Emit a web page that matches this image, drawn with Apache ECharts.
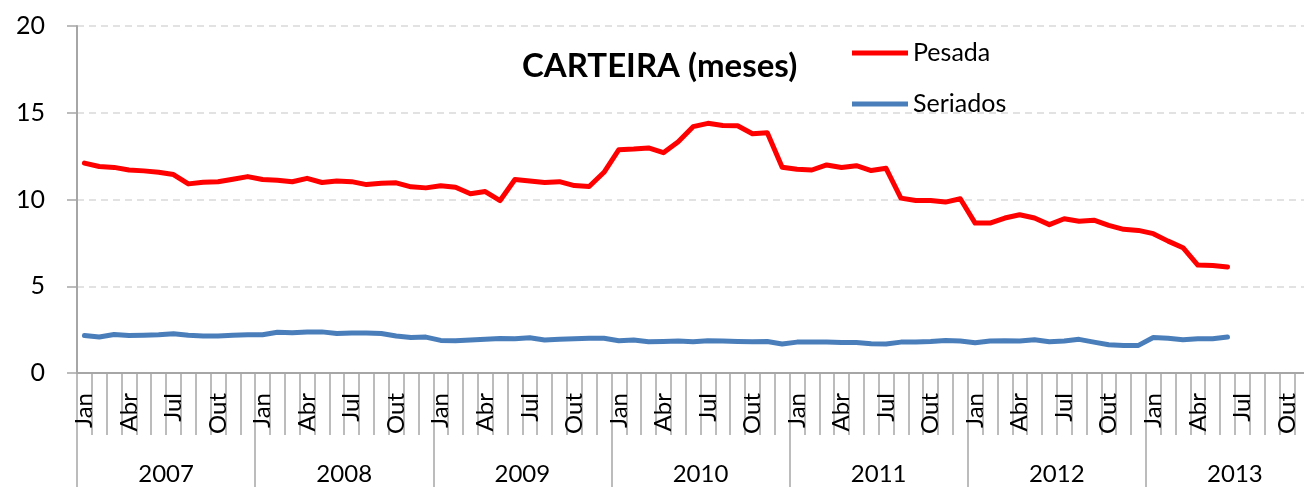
<!DOCTYPE html>
<html>
<head>
<meta charset="utf-8">
<script src="https://cdn.jsdelivr.net/npm/echarts@6/dist/echarts.min.js"></script>
<style>
html,body{margin:0;padding:0;background:#fff;}
#chart{width:1304px;height:487px;}
</style>
</head>
<body>
<div id="chart"></div>
<script>
const years = ["2007","2008","2009","2010","2011","2012","2013"];
const monthNames = ["Jan","Fev","Mar","Abr","Mai","Jun","Jul","Ago","Set","Out","Nov","Dez"];
const yTicks = [0, 5, 10, 15, 20];

const pesada = [
  12.1, 11.9, 11.85, 11.7, 11.65, 11.57, 11.44, 10.9, 11.0, 11.02, 11.17, 11.32,
  11.15, 11.11, 11.02, 11.22, 10.98, 11.07, 11.03, 10.86, 10.94, 10.96, 10.73, 10.67,
  10.79, 10.71, 10.33, 10.46, 9.94, 11.15, 11.07, 10.98, 11.03, 10.8, 10.75, 11.57,
  12.87, 12.91, 12.97, 12.7, 13.33, 14.2, 14.39, 14.27, 14.25, 13.79, 13.85, 11.86,
  11.74, 11.7, 11.99, 11.84, 11.95, 11.67, 11.8, 10.08, 9.94, 9.94, 9.85, 10.04,
  8.64, 8.64, 8.93, 9.12, 8.93, 8.55, 8.89, 8.75, 8.81, 8.51, 8.28, 8.22,
  8.03, 7.6, 7.22, 6.22, 6.2, 6.11
];
const seriados = [
  2.16, 2.07, 2.22, 2.16, 2.18, 2.2, 2.26, 2.18, 2.13, 2.13, 2.18, 2.2,
  2.2, 2.35, 2.32, 2.37, 2.37, 2.28, 2.3, 2.3, 2.28, 2.13, 2.05, 2.07,
  1.88, 1.86, 1.9, 1.94, 1.99, 1.97, 2.03, 1.9, 1.94, 1.97, 2.0, 2.0,
  1.86, 1.9, 1.8, 1.82, 1.84, 1.8, 1.86, 1.84, 1.82, 1.8, 1.82, 1.67,
  1.78, 1.78, 1.78, 1.76, 1.76, 1.69, 1.67, 1.78, 1.78, 1.82, 1.88, 1.84,
  1.74, 1.84, 1.86, 1.84, 1.92, 1.8, 1.84, 1.94, 1.78, 1.63, 1.59, 1.59,
  2.05, 2.0, 1.92, 1.97, 1.97, 2.07
];

const months = [];
years.forEach(y => monthNames.forEach(m => months.push(m + " " + y)));

const FONT = "Lato";
const chart = echarts.init(document.getElementById('chart'), null, {renderer: 'canvas'});
chart.setOption({
  backgroundColor: '#ffffff',
  animation: false,
  title: {
    text: 'CARTEIRA (meses)',
    left: 522,
    top: 50,
    padding: 0,
    textStyle: {fontFamily: FONT, fontSize: 33, fontWeight: 'bold', color: '#000'}
  },
  legend: {
    orient: 'vertical',
    left: 852,
    top: 38,
    padding: 0,
    itemWidth: 56,
    itemHeight: 5,
    itemGap: 21,
    icon: 'rect',
    textStyle: {fontFamily: FONT, fontSize: 25, color: '#000', lineHeight: 30},
    data: ['Pesada', 'Seriados']
  },
  grid: {left: 77, width: 1247, top: 26, bottom: 114, containLabel: false, outerBoundsMode: 'none'},
  xAxis: [
    {
      type: 'category',
      data: months,
      boundaryGap: true,
      position: 'bottom',
      axisLine: {show: true, lineStyle: {color: '#a6a6a6', width: 2}},
      axisTick: {show: true, interval: 0, length: 62, lineStyle: {color: '#a6a6a6', width: 1.5}},
      axisLabel: {
        interval: 2,
        rotate: 90,
        margin: 20,
        fontFamily: FONT,
        fontSize: 24,
        color: '#000',
        formatter: v => v.split(' ')[0]
      },
      splitLine: {show: false}
    },
    {
      type: 'category',
      data: years,
      boundaryGap: true,
      position: 'bottom',
      axisLine: {show: false},
      axisTick: {show: true, interval: 0, length: 120, lineStyle: {color: '#a6a6a6', width: 1.5}},
      axisLabel: {interval: 0, margin: 89, fontFamily: FONT, fontSize: 24, color: '#000'},
      splitLine: {show: false}
    }
  ],
  yAxis: {
    type: 'value',
    min: yTicks[0],
    max: yTicks[yTicks.length - 1],
    interval: yTicks[1] - yTicks[0],
    axisLine: {show: true, lineStyle: {color: '#a6a6a6', width: 2}},
    axisTick: {show: true, length: 10, lineStyle: {color: '#a6a6a6', width: 1.5}},
    axisLabel: {margin: 32, fontFamily: FONT, fontSize: 25, color: '#000'},
    splitLine: {show: true, lineStyle: {color: '#d9d9d9', width: 1.5, type: [7, 5]}}
  },
  series: [
    {
      name: 'Pesada',
      type: 'line',
      data: pesada,
      xAxisIndex: 0,
      symbol: 'none',
      color: '#ff0000',
      lineStyle: {width: 5, color: '#ff0000', join: 'round', cap: 'round'}
    },
    {
      name: 'Seriados',
      type: 'line',
      data: seriados,
      xAxisIndex: 0,
      symbol: 'none',
      color: '#4a7ebb',
      lineStyle: {width: 5, color: '#4a7ebb', join: 'round', cap: 'round'}
    }
  ]
});
</script>
</body>
</html>
